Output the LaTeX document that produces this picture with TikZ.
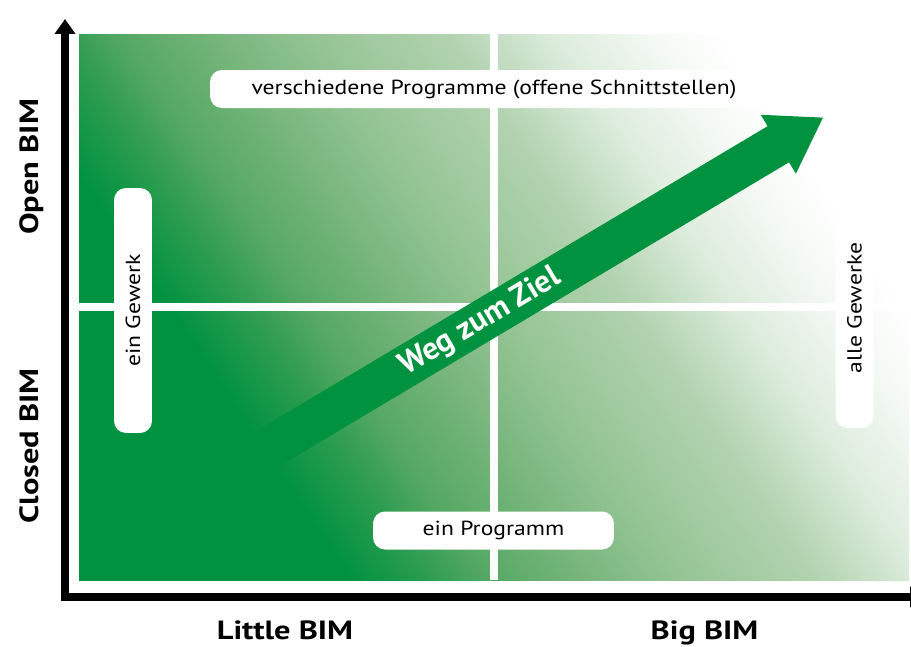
\documentclass[tikz,border=0pt]{standalone}
\usepackage{fontspec}
\setmainfont{PT Sans}[FakeStretch=1.16]
\newfontfamily\axisfont{PT Sans}[FakeStretch=1.23]
\newfontfamily\wayfont{PT Sans}
\usetikzlibrary{positioning, arrows.meta}

\definecolor{bimgreen}{RGB}{0,146,63}
\definecolor{bimdeep}{RGB}{40,155,78}
\definecolor{bimmid}{RGB}{85,168,100}
\definecolor{bimsoft}{RGB}{122,183,126}
\definecolor{bimpale}{RGB}{148,196,148}
\definecolor{bimlight}{RGB}{178,211,176}
\definecolor{bimfaint}{RGB}{220,236,220}
\definecolor{bimwhite}{RGB}{245,249,245}

\pgfdeclarehorizontalshading{bimfade}{100bp}{%
    color(0bp)=(bimgreen); color(31bp)=(bimgreen); color(35bp)=(bimdeep);
    color(39bp)=(bimmid); color(45bp)=(bimsoft); color(50bp)=(bimpale);
    color(58bp)=(bimlight); color(64bp)=(bimfaint); color(70bp)=(bimwhite);
    color(74bp)=(white); color(100bp)=(white)}

\begin{document}
\begin{tikzpicture}
[
    x=0.02cm, y=-0.02cm,
    % All coordinates are pixels of the sketch, y pointing down.
    % Boxes are named B-..., axis labels L-..., the big arrow W-...
    font=\fontsize{11.6}{14}\selectfont
]

%=================================== Start ===================================
\tikzstyle{axisline} = [line width=0.16cm,
    {Triangle[length=0.3cm, width=0.4cm]}-{Triangle[length=0.3cm, width=0.4cm]}]
\tikzstyle{divider}  = [white, line width=0.16cm]
\tikzstyle{lab}      = [font=\axisfont\fontsize{15}{18}\selectfont\bfseries,
                        inner sep=0pt]
\tikzstyle{box}      = [fill=white, rounded corners=0.24cm, minimum height=0.76cm,
                        inner sep=0pt]
\tikzstyle{way}      = [text=white, font=\wayfont\fontsize{18}{21}\selectfont\bfseries,
                        inner sep=0pt]

\useasboundingbox (0,0) rectangle (911,646);

{
    % Field with the gradient and the two white dividers
    \shade[shading=bimfade, shading angle=34] (79,34) rectangle (909,580);
    \draw[divider] (494,34) -- (494,580);
    \draw[divider] (79,307) -- (909,307);

    % Draw axes
    \coordinate (A-y) at (65,19);
    \coordinate (A-x) at (925,597);
    \draw[axisline] (A-y) |- (A-x);

    % Axis labels
    \foreach \y / \n / \txt in {167/open/Open BIM, 446/closed/Closed BIM}
        \node[lab, rotate=90, anchor=base] (L-\n) at (38,\y) {\txt};
    \foreach \x / \n / \txt in {285/little/Little BIM, 704.5/big/Big BIM}
        \node[lab, anchor=base] (L-\n) at (\x,639) {\txt};

    % The big arrow, tail hidden in the dark corner
    \coordinate (W-tail) at (153,517);
    \begin{scope}[shift={(W-tail)}, rotate=30.8]
        \fill[bimgreen] (0,21) -- (728,21) -- (728,34.3) -- (780,0)
            -- (728,-34.3) -- (728,-21) -- (0,-21) -- cycle;
        \node[way, rotate=30.8] (W-label) at (381,0) {Weg zum Ziel};
    \end{scope}

    % White boxes
    \node[box, minimum width=11.36cm] (B-top) at (494,89)
        {verschiedene Programme (offene Schnittstellen)};
    \node[box, minimum width=4.82cm] (B-bottom) at (493.5,530.5) {ein Programm};
    \node[box, minimum width=4.9cm, rotate=90] (B-left) at (133,310.5) {ein Gewerk};
    \node[box, minimum width=4.8cm, rotate=90] (B-right) at (854.5,308) {alle Gewerke};
}
%==================================== END ====================================

\end{tikzpicture}
\end{document}
